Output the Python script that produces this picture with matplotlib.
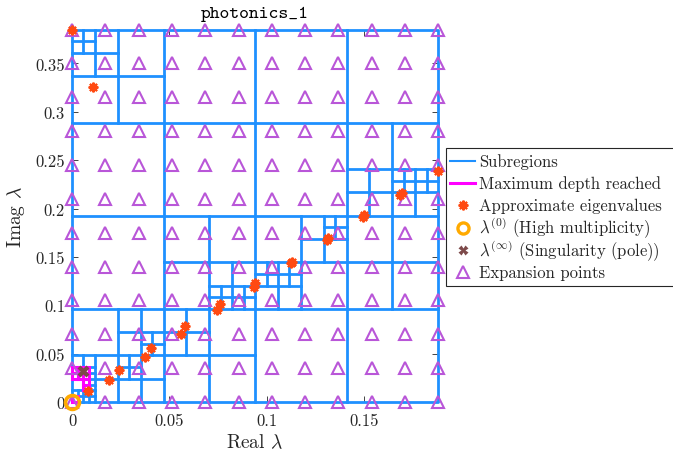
import matplotlib
matplotlib.use("Agg")
import matplotlib.pyplot as plt
from matplotlib.lines import Line2D
from matplotlib.patches import Rectangle
import numpy as np

plt.rcParams['font.family'] = 'serif'
plt.rcParams['font.serif'] = ['cmr10']
plt.rcParams['mathtext.fontset'] = 'cm'
plt.rcParams['axes.unicode_minus'] = False
plt.rcParams['axes.formatter.use_mathtext'] = True

# search domain
re_lim = [0.0, 0.188]
im_lim = [0.0, 0.385]

# quadtree splits: (level, i, j), cell size = domain / 2**level
splits = [
    (0, 0, 0),
    (1, 0, 0), (1, 1, 0), (1, 0, 1), (1, 1, 1),
    (2, 0, 0), (2, 1, 0), (2, 1, 1), (2, 2, 1), (2, 3, 1), (2, 3, 2), (2, 0, 3),
    (3, 0, 7), (3, 0, 0), (3, 1, 0), (3, 1, 1), (3, 2, 1), (3, 3, 2), (3, 4, 2),
    (3, 5, 3), (3, 6, 4), (3, 7, 4),
    (4, 0, 15), (4, 6, 4), (4, 7, 4), (4, 8, 5), (4, 9, 5), (4, 11, 7),
    (4, 14, 9), (4, 15, 9), (4, 3, 2), (4, 0, 0), (4, 0, 1), (4, 2, 1),
    (5, 0, 0), (5, 1, 0), (5, 0, 2), (5, 1, 2), (5, 1, 1),
]
# cells where the maximum depth was reached
max_depth = [(6, 0, 0), (6, 0, 4), (6, 1, 4), (6, 2, 4), (6, 0, 5), (6, 1, 5),
             (6, 2, 5), (6, 2, 2), (6, 2, 3)]

eig_re = [0.0, 0.0108, 0.1880, 0.1694, 0.1684, 0.1498, 0.1493, 0.1313, 0.1308,
          0.1128, 0.1123, 0.0942, 0.0934, 0.0762, 0.0745, 0.0582, 0.0561,
          0.0405, 0.0376, 0.0242, 0.0189, 0.0082]
eig_im = [0.385, 0.3257, 0.2386, 0.2158, 0.2137, 0.1929, 0.1909, 0.1690, 0.1670,
          0.1452, 0.1432, 0.1234, 0.1190, 0.1009, 0.0947, 0.0785, 0.0705,
          0.0557, 0.0470, 0.0335, 0.0228, 0.0117]

zero_re = [0.0]
zero_im = [0.0]
pole_re = [0.0055]
pole_im = [0.0318]

exp_re = [0, 0.0171, 0.0342, 0.0513, 0.0684, 0.0855, 0.1025, 0.1196, 0.1367,
          0.1538, 0.1709, 0.188]
exp_im = [0, 0.035, 0.07, 0.105, 0.14, 0.175, 0.21, 0.245, 0.28, 0.315, 0.35, 0.385]

xticks = [0, 0.05, 0.1, 0.15]
yticks = [0, 0.05, 0.1, 0.15, 0.2, 0.25, 0.3, 0.35]

legend_labels = ['Subregions', 'Maximum depth reached', 'Approximate eigenvalues',
                 r'$\lambda^{(0)}$ (High multiplicity)',
                 r'$\lambda^{(\infty)}$ (Singularity (pole))', 'Expansion points']

blue = '#1e90ff'
purple = '#b956d8'
orange = '#ff4a12'
gold = '#ffaa00'
brown = '#7d4a4a'
W, H = 673, 452


def cell(level, i, j):
    w = (re_lim[1] - re_lim[0]) / 2 ** level
    h = (im_lim[1] - im_lim[0]) / 2 ** level
    return re_lim[0] + i * w, im_lim[0] + j * h, w, h


fig = plt.figure(figsize=(6.73, 4.52), dpi=100)
ax = fig.add_axes([0.107, 0.1084, 0.544, 0.8241])

# outer box
ax.plot([re_lim[0], re_lim[1], re_lim[1], re_lim[0], re_lim[0]],
        [im_lim[0], im_lim[0], im_lim[1], im_lim[1], im_lim[0]],
        color=blue, lw=2, clip_on=False, zorder=2)
for lev, i, j in splits:
    x, y, w, h = cell(lev, i, j)
    ax.plot([x + w / 2, x + w / 2], [y, y + h], color=blue, lw=2, clip_on=False, zorder=2)
    ax.plot([x, x + w], [y + h / 2, y + h / 2], color=blue, lw=2, clip_on=False, zorder=2)

for lev, i, j in max_depth:
    x, y, w, h = cell(lev, i, j)
    ax.add_patch(Rectangle((x, y), w, h, fill=False, edgecolor='magenta', lw=2.2,
                           clip_on=False, zorder=3))

ex, ey = np.meshgrid(exp_re, exp_im)
ax.plot(ex.ravel(), ey.ravel(), linestyle='none', marker='^', ms=9, mfc='none',
        mec=purple, mew=1.5, clip_on=False, zorder=4)
ax.plot(eig_re, eig_im, linestyle='none', marker=(8, 2, 0), ms=7, color=orange,
        mew=1.5, clip_on=False, zorder=5)
ax.plot(zero_re, zero_im, linestyle='none', marker='o', ms=10, mfc='none',
        mec=gold, mew=2.6, clip_on=False, zorder=6)
ax.plot(pole_re, pole_im, linestyle='none', marker='X', ms=8, color=brown,
        mec='none', clip_on=False, zorder=6)

ax.set_xlim(re_lim)
ax.set_ylim(im_lim)
ax.set_xticks(xticks)
ax.set_xticklabels(['%g' % t for t in xticks])
ax.set_yticks(yticks)
ax.set_yticklabels(['%g' % t for t in yticks])
ax.tick_params(direction='in', top=True, right=True, length=4, width=0.6,
               labelsize=12, pad=5, colors='#262626')
ax.tick_params(axis='x', pad=8)
for s in ax.spines.values():
    s.set_visible(False)

ax.set_xlabel(r'Real $\lambda$', fontsize=14, color='#262626', labelpad=3)
ax.set_ylabel(r'Imag $\lambda$', fontsize=14, color='#262626', labelpad=6)
ax.set_title('photonics_1', family='cmtt10', fontsize=13.5, pad=9)

# legend laid out by hand so that the rows are evenly spaced
tf = fig.transFigure
fig.add_artist(Rectangle((446 / W, 1 - 287 / H), 240 / W, 138 / H, transform=tf,
                         facecolor='white', edgecolor='#262626', lw=0.8, zorder=10))
handle_styles = [
    dict(color=blue, lw=1.5),
    dict(color='magenta', lw=2.2),
    dict(linestyle='none', marker=(8, 2, 0), ms=7, color=orange, mew=1.5),
    dict(linestyle='none', marker='o', ms=8, mfc='none', mec=gold, mew=2.4),
    dict(linestyle='none', marker='X', ms=7, color=brown, mec='none'),
    dict(linestyle='none', marker='^', ms=9, mfc='none', mec=purple, mew=1.5),
]
for k, (lab, st) in enumerate(zip(legend_labels, handle_styles)):
    yc = 1 - (161.7 + 22.3 * k) / H
    if st.get('linestyle') == 'none':
        fig.add_artist(Line2D([462.5 / W], [yc], transform=tf, zorder=11, **st))
    else:
        fig.add_artist(Line2D([450 / W, 475 / W], [yc, yc], transform=tf, zorder=11, **st))
    fig.text(479 / W, yc - 5 / H, lab, fontsize=12, va='baseline', ha='left',
             color='#262626', zorder=11)

fig.savefig('out.png', dpi=100)
